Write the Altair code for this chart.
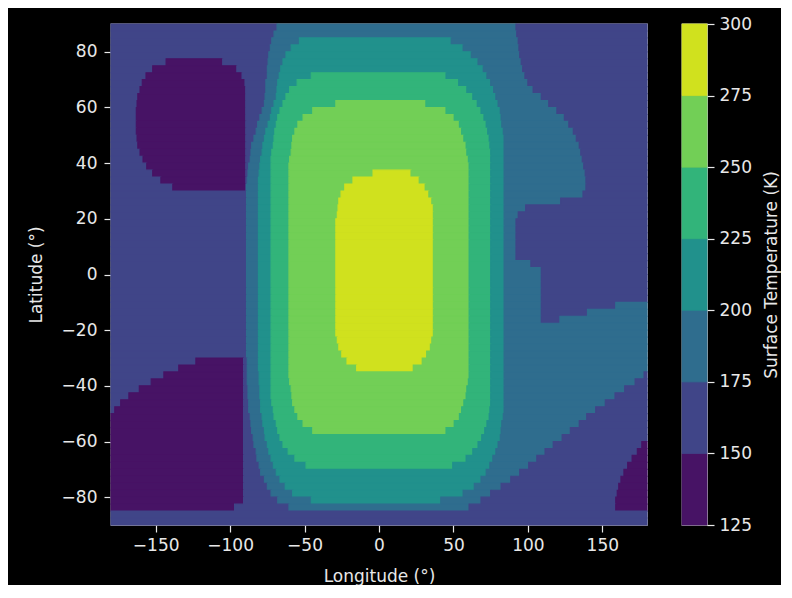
import altair as alt
import pandas as pd

# Filled-contour bands of surface temperature, read row by row (2.5 deg latitude rows).
# Each row: "lon:level" breakpoints; a band runs from its lon to the next breakpoint (or 180).
lat_centers = [88.75, 86.25, 83.75, 81.25, 78.75, 76.25, 73.75, 71.25, 68.75, 66.25, 63.75, 61.25,
               58.75, 56.25, 53.75, 51.25, 48.75, 46.25, 43.75, 41.25, 38.75, 36.25, 33.75, 31.25,
               28.75, 26.25, 23.75, 21.25, 18.75, 16.25, 13.75, 11.25, 8.75, 6.25, 3.75, 1.25,
               -1.25, -3.75, -6.25, -8.75, -11.25, -13.75, -16.25, -18.75, -21.25, -23.75, -26.25, -28.75,
               -31.25, -33.75, -36.25, -38.75, -41.25, -43.75, -46.25, -48.75, -51.25, -53.75, -56.25, -58.75,
               -61.25, -63.75, -66.25, -68.75, -71.25, -73.75, -76.25, -78.75, -81.25, -83.75, -86.25, -88.75]

row_breaks = [
    "-180:1 -68.5:2 92:1",
    "-180:1 -70.5:2 92.5:1",
    "-180:1 -72:2 -53.5:3 48.5:2 93.5:1",
    "-180:1 -73:2 -59:3 56.5:2 94:1",
    "-180:1 -74:2 -62.5:3 62:2 94.5:1",
    "-180:1 -143:0 -105:1 -74.5:2 -64.5:3 66.5:2 95.5:1",
    "-180:1 -152:0 -95.5:1 -75:2 -66:3 70:2 96.5:1",
    "-180:1 -156.5:0 -92:1 -75:2 -67:3 -45.5:4 45:3 72.5:2 98:1",
    "-180:1 -159:0 -90:1 -76:2 -68:3 -55:4 53.5:3 75:2 100:1",
    "-180:1 -160.5:0 -89.5:1 -76:2 -68.5:3 -60:4 59:3 77:2 103.5:1",
    "-180:1 -162:0 -89.5:1 -76.5:2 -69:3 -62.5:4 63:3 78.5:2 109:1",
    "-180:1 -162.5:0 -89.5:1 -77:2 -70.5:3 -64.5:4 -29:5 31.5:4 66:3 80:2 114:1",
    "-180:1 -163:0 -89.5:1 -78.5:2 -72:3 -66.5:4 -44.5:5 45:4 68.5:3 81.5:2 119.5:1",
    "-180:1 -163:0 -89.5:1 -80:2 -73:3 -68:4 -51:5 50.5:4 70.5:3 82:2 124.5:1",
    "-180:1 -163:0 -89.5:1 -81.5:2 -74.5:3 -69:4 -54.5:5 54:4 72:3 82.5:2 127.5:1",
    "-180:1 -163:0 -89.5:1 -82.5:2 -76:3 -70:4 -56.5:5 55.5:4 73:3 83.5:2 130.5:1",
    "-180:1 -162.5:0 -89.5:1 -84:2 -77:3 -70.5:4 -58:5 57:4 74:3 84:2 132.5:1",
    "-180:1 -162:0 -89.5:1 -85.5:2 -78:3 -71:4 -58.5:5 58.5:4 74.5:3 84:2 134.5:1",
    "-180:1 -160.5:0 -89.5:1 -86:2 -78.5:3 -72:4 -59:5 59:4 75:3 84:2 135.5:1",
    "-180:1 -158.5:0 -89.5:1 -86.5:2 -79.5:3 -72.5:4 -60:5 60:4 75:3 84:2 136.5:1",
    "-180:1 -156:0 -89.5:1 -87.5:2 -80:3 -72.5:4 -60.5:5 60.5:4 75:3 84:2 137.5:1",
    "-180:1 -152:0 -89.5:1 -88:2 -80.5:3 -72.5:4 -60.5:5 -4:6 21.5:5 60.5:4 75:3 84:2 138.5:1",
    "-180:1 -146.5:0 -89.5:1 -88.5:2 -81:3 -72.5:4 -60.5:5 -17.5:6 27:5 60.5:4 75:3 84:2 139:1",
    "-180:1 -138.5:0 -89.5:1 -89:2 -81:3 -72.5:4 -60.5:5 -23:6 31:5 60.5:4 75:3 84:2 139:1",
    "-180:1 -89:2 -81:3 -72.5:4 -60.5:5 -25.5:6 33.5:5 60.5:4 75:3 84:2 137:1",
    "-180:1 -89:2 -81:3 -72.5:4 -60.5:5 -27:6 35.5:5 60.5:4 75:3 84:2 122:1",
    "-180:1 -89:2 -81:3 -72.5:4 -60.5:5 -27.5:6 36.5:5 60.5:4 75:3 84:2 98.5:1",
    "-180:1 -89:2 -81:3 -72.5:4 -60.5:5 -28:6 36.5:5 60.5:4 75:3 84:2 93.5:1",
    "-180:1 -89:2 -81:3 -72.5:4 -60.5:5 -29:6 36.5:5 60.5:4 75:3 84:2 92:1",
    "-180:1 -89:2 -81:3 -72.5:4 -60.5:5 -29:6 36.5:5 60.5:4 75:3 84:2 92:1",
    "-180:1 -89:2 -81:3 -72.5:4 -60.5:5 -29:6 36.5:5 60.5:4 75:3 84:2 92:1",
    "-180:1 -89:2 -81:3 -72.5:4 -60.5:5 -29:6 36.5:5 60.5:4 75:3 84:2 92:1",
    "-180:1 -89:2 -81:3 -72.5:4 -60.5:5 -29:6 36.5:5 60.5:4 75:3 84:2 92:1",
    "-180:1 -89:2 -81:3 -72.5:4 -60.5:5 -29:6 36.5:5 60.5:4 75:3 84:2 92:1",
    "-180:1 -89:2 -81:3 -72.5:4 -60.5:5 -29:6 36.5:5 60.5:4 75:3 84:2 102:1",
    "-180:1 -89:2 -81:3 -72.5:4 -60.5:5 -29:6 36.5:5 60.5:4 75:3 84:2 109:1",
    "-180:1 -89:2 -81:3 -72.5:4 -60.5:5 -29:6 36.5:5 60.5:4 75:3 84:2 109:1",
    "-180:1 -89:2 -81:3 -72.5:4 -60.5:5 -29:6 36.5:5 60.5:4 75:3 84:2 109:1",
    "-180:1 -89:2 -81:3 -72.5:4 -60.5:5 -29:6 36.5:5 60.5:4 75:3 84:2 109:1",
    "-180:1 -89:2 -81:3 -72.5:4 -60.5:5 -29:6 36.5:5 60.5:4 75:3 84:2 109:1",
    "-180:1 -89:2 -81:3 -72.5:4 -60.5:5 -29:6 36.5:5 60.5:4 75:3 84:2 109:1 159:2",
    "-180:1 -89:2 -81:3 -72.5:4 -60.5:5 -29:6 36.5:5 60.5:4 75:3 84:2 109:1 140:2",
    "-180:1 -89:2 -81:3 -72.5:4 -60.5:5 -29:6 36.5:5 60.5:4 75:3 84:2 109:1 121.5:2",
    "-180:1 -89:2 -81:3 -72.5:4 -60.5:5 -29:6 36.5:5 60.5:4 75:3 84:2",
    "-180:1 -89:2 -81:3 -72.5:4 -60.5:5 -29:6 36.5:5 60.5:4 75:3 84:2",
    "-180:1 -89:2 -81:3 -72.5:4 -60.5:5 -28:6 35.5:5 60.5:4 75:3 84:2",
    "-180:1 -89:2 -81:3 -72.5:4 -60.5:5 -27:6 34.5:5 60.5:4 75:3 84:2",
    "-180:1 -89:2 -81:3 -72.5:4 -60.5:5 -25:6 32:5 60.5:4 75:3 84:2",
    "-180:1 -123:0 -91:1 -88.5:2 -81:3 -72.5:4 -60.5:5 -21.5:6 29:5 60.5:4 75:3 84:2",
    "-180:1 -134.5:0 -91:1 -88.5:2 -81:3 -72.5:4 -60.5:5 -15:6 23:5 60.5:4 75:3 84:2",
    "-180:1 -144.5:0 -91:1 -88.5:2 -80.5:3 -72.5:4 -60.5:5 60.5:4 75:3 84:2 178:1",
    "-180:1 -153:0 -91:1 -88.5:2 -80.5:3 -72.5:4 -60:5 60:4 75:3 84:2 172:1",
    "-180:1 -161:0 -91:1 -88:2 -80:3 -72.5:4 -59:5 59:4 75:3 84:2 165:1",
    "-180:1 -168:0 -91:1 -88:2 -80:3 -72.5:4 -58.5:5 58.5:4 75:3 84:2 158.5:1",
    "-180:1 -173.5:0 -91:1 -87.5:2 -79.5:3 -72:4 -58:5 57:4 75:3 84:2 152:1",
    "-180:1 -177.5:0 -91:1 -87.5:2 -79.5:3 -71:4 -56.5:5 55.5:4 74.5:3 84:2 145.5:1",
    "-180:0 -91:1 -86.5:2 -78.5:3 -70.5:4 -54.5:5 54:4 74:3 83.5:2 139.5:1",
    "-180:0 -91:1 -86:2 -78:3 -69:4 -51:5 50.5:4 72.5:3 82.5:2 134.5:1",
    "-180:0 -91:1 -85.5:2 -77:3 -68:4 -44.5:5 45:4 71:3 82:2 128.5:1",
    "-180:0 -91:1 -84.5:2 -76.5:3 -66.5:4 69:3 81.5:2 123:1",
    "-180:0 -91:1 -84:2 -75:3 -64.5:4 66.5:3 80:2 117:1 176.5:0",
    "-180:0 -91:1 -82.5:2 -74:3 -61:4 63:3 78.5:2 111.5:1 173.5:0",
    "-180:0 -91:1 -82:2 -72.5:3 -56.5:4 58.5:3 76.5:2 106:1 170:0",
    "-180:0 -91:1 -80.5:2 -71:3 -49:4 49.5:3 74.5:2 100.5:1 167:0",
    "-180:0 -91:1 -79.5:2 -69:3 72:2 94.5:1 164.5:0",
    "-180:0 -91:1 -77:2 -66.5:3 68.5:2 88.5:1 162.5:0",
    "-180:0 -91:1 -75:2 -63:3 64:2 82:1 161:0",
    "-180:0 -91:1 -72.5:2 -58:3 56.5:2 75:1 160:0",
    "-180:0 -91:1 -68:2 -45.5:3 41.5:2 68.5:1 159:0",
    "-180:0 -97:1 -60.5:2 60.5:1 159:0",
    "-180:1",
    "-180:1",
]

level_bounds = [125, 150, 175, 200, 225, 250, 275, 300]
level_ids = [0, 1, 2, 3, 4, 5, 6]
level_colors = ["#471365", "#404588", "#2f6d8e", "#21918c", "#32b47a", "#72cf56", "#d0e11e"]
x_ticks = [-150, -100, -50, 0, 50, 100, 150]
y_ticks = [-80, -60, -40, -20, 0, 20, 40, 60, 80]
ROW_HALF = 1.25

recs = []
for lat, s in zip(lat_centers, row_breaks):
    parts = [(float(a), int(b)) for a, b in (p.split(":") for p in s.split())]
    for i, (lon0, lvl) in enumerate(parts):
        lon1 = parts[i + 1][0] if i + 1 < len(parts) else 180.0
        recs.append({"lon0": lon0, "lon1": lon1, "lat0": lat - ROW_HALF,
                     "lat1": lat + ROW_HALF, "level": lvl})
df = pd.DataFrame(recs)

cb = pd.DataFrame({
    "lo": level_bounds[:-1],
    "hi": level_bounds[1:],
    "level": level_ids,
    "col": ["c"] * len(level_ids),
})

cscale = alt.Scale(domain=level_ids, range=level_colors)
TXT = "#e8e8e8"

main = alt.Chart(df).mark_rect(strokeWidth=1.1).encode(
    x=alt.X("lon0:Q", scale=alt.Scale(domain=[-180, 180], nice=False, zero=False),
            axis=alt.Axis(values=x_ticks, title="Longitude (°)", labelPadding=5, titlePadding=15)),
    x2="lon1:Q",
    y=alt.Y("lat0:Q", scale=alt.Scale(domain=[-90, 90], nice=False, zero=False),
            axis=alt.Axis(values=y_ticks, title="Latitude (°)", labelPadding=7, titlePadding=16)),
    y2="lat1:Q",
    color=alt.Color("level:O", scale=cscale, legend=None),
    stroke=alt.Stroke("level:O", scale=cscale, legend=None),
).properties(width=536, height=501)

colorbar = alt.Chart(cb).mark_rect(strokeWidth=0.8).encode(
    x=alt.X("col:N", axis=None, scale=alt.Scale(paddingInner=0, paddingOuter=0)),
    y=alt.Y("lo:Q", scale=alt.Scale(domain=[125, 300], nice=False, zero=False),
            axis=alt.Axis(orient="right", values=level_bounds, title="Surface Temperature (K)",
                          titleAngle=270, titleBaseline="top", labelPadding=5, titlePadding=12)),
    y2="hi:Q",
    color=alt.Color("level:O", scale=cscale, legend=None),
    stroke=alt.Stroke("level:O", scale=cscale, legend=None),
).properties(width=25, height=501)

chart = alt.hconcat(main, colorbar, spacing=35, bounds="flush").properties(
    background="#000000",
    padding={"left": 18, "top": 6, "right": 0, "bottom": 0},
).configure_axis(
    labelFont="DejaVu Sans", titleFont="DejaVu Sans",
    labelFontSize=17, titleFontSize=17, titleFontWeight="normal",
    labelColor=TXT, titleColor=TXT, tickColor=TXT, tickSize=7, tickWidth=1.2,
    domain=False, grid=False,
).configure_view(stroke="#d6d6d6", strokeWidth=1.3, fill="#404588")

chart.save("out.html", embed_options={"renderer": "svg", "actions": False})
